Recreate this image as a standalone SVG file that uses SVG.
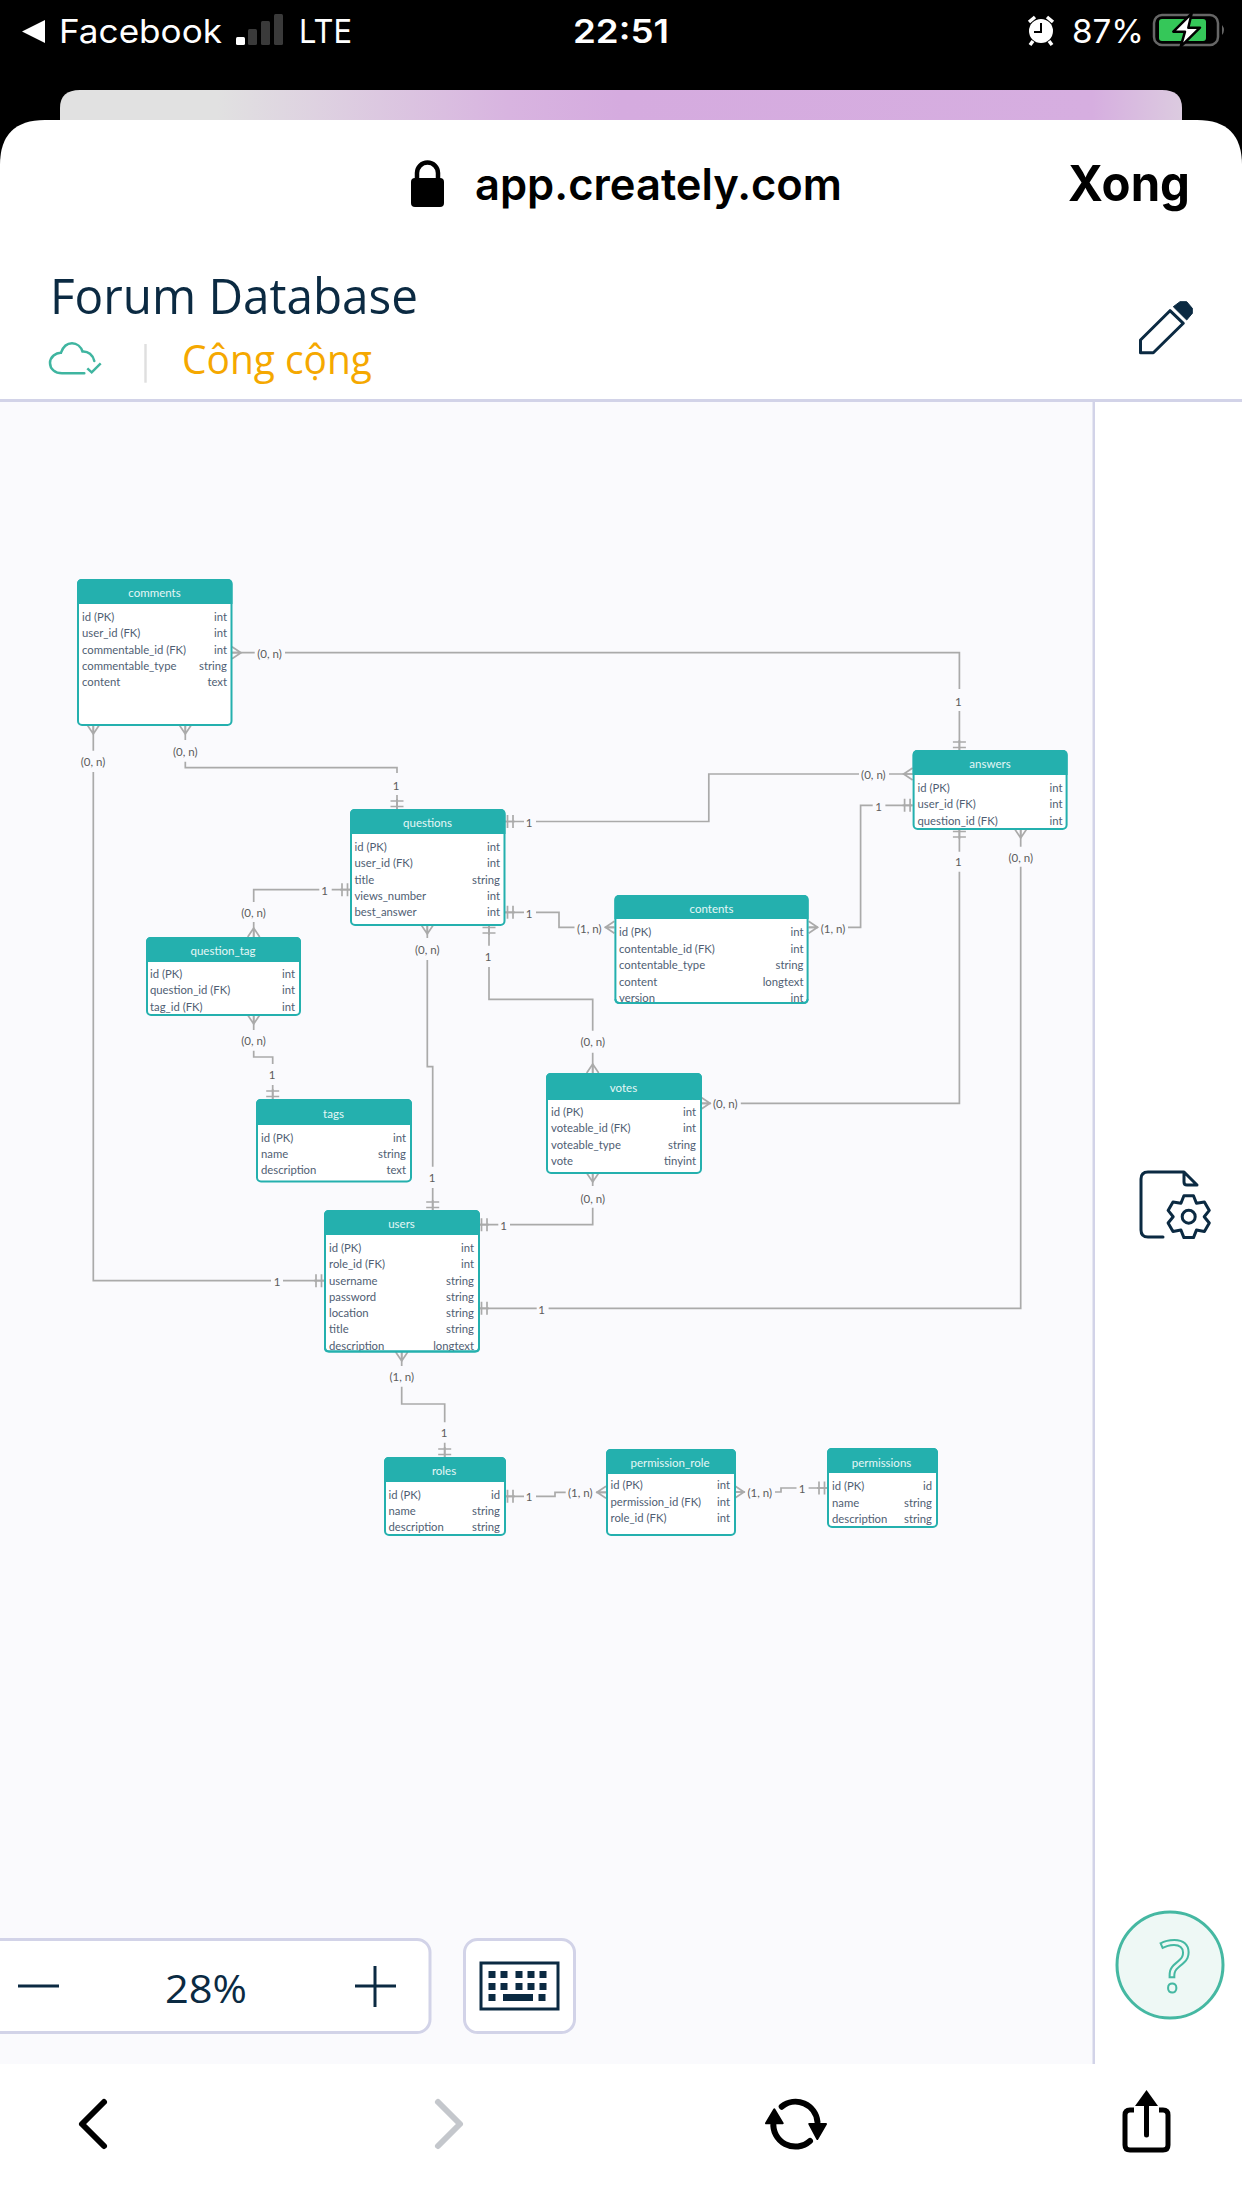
<svg xmlns="http://www.w3.org/2000/svg" width="1242" height="2208" viewBox="0 0 1242 2208">
<style>
.b{fill:#fff;stroke:#24b0ae;stroke-width:2}
.hd{fill:#24b0ae}
.h{font:11.500px Lato,"Liberation Sans",sans-serif;fill:#e4f7f6;text-anchor:middle}
.f{font:11.300px Lato,"Liberation Sans",sans-serif;fill:#4f5e73}
.t{font:11.300px Lato,"Liberation Sans",sans-serif;fill:#4f5e73;text-anchor:end}
.l{font:11.500px Lato,"Liberation Sans",sans-serif;fill:#5c5c5c;text-anchor:middle}
.c{fill:none;stroke:#aaa;stroke-width:1.700}
.st{font-family:Inter,"Liberation Sans",sans-serif;fill:#fff;font-size:33px}
.ui{font-family:"Open Sans","Noto Sans",sans-serif}
.ic{fill:none;stroke:#0b2a42;stroke-width:3;stroke-linejoin:round;stroke-linecap:round}
</style>
<defs>
<linearGradient id="tab" x1="0" x2="1" y1="0" y2="0">
<stop offset="0.14" stop-color="#e1e1e1"/><stop offset="0.4" stop-color="#d8b4e0"/><stop offset="0.5" stop-color="#d5abdf"/><stop offset="0.92" stop-color="#d6aee0"/><stop offset="1" stop-color="#dccbe0"/>
</linearGradient>
<g id="crow"><path class="c" d="M0 -6L9 0L0 6M0 0H9"/></g>
<g id="tk"><path class="c" d="M2.500 -6.500V6.500M8 -6.500V6.500M0 0H10"/></g>
</defs>

<rect width="1242" height="2208" fill="#000"/>
<path d="M60 120V108Q60 90 80 90H1162Q1182 90 1182 108V120Z" fill="url(#tab)"/>
<path d="M0 165Q0 120 45 120H1197Q1242 120 1242 165V2208H0Z" fill="#fff"/>

<g id="status-bar">
<path d="M22 31.500L45 20V43Z" fill="#fff"/>
<text class="st" x="59" y="43" textLength="163" lengthAdjust="spacingAndGlyphs">Facebook</text>
<rect x="236" y="37" width="9" height="8" rx="1.500" fill="#fff"/>
<rect x="248" y="29" width="9" height="16" rx="1.500" fill="#3a3a3a"/>
<rect x="261" y="21" width="9" height="24" rx="1.500" fill="#3a3a3a"/>
<rect x="274" y="14" width="9" height="31" rx="1.500" fill="#3a3a3a"/>
<text class="st" x="299" y="43" textLength="53" lengthAdjust="spacingAndGlyphs">LTE</text>
<text class="st" x="573" y="43" font-weight="600" textLength="96" lengthAdjust="spacingAndGlyphs">22:51</text>
<circle cx="1041" cy="31" r="12" fill="#fff"/>
<path d="M1041 23V32H1034" fill="none" stroke="#000" stroke-width="2"/>
<path d="M1029 22L1035 17M1053 22L1047 17M1033 41L1030 45M1049 41L1052 45" stroke="#fff" stroke-width="3.500" fill="none"/>
<text class="st" x="1072" y="42.500" textLength="72" lengthAdjust="spacingAndGlyphs">87%</text>
<rect x="1154" y="15" width="64" height="30" rx="8" fill="none" stroke="#666" stroke-width="2.500"/>
<rect x="1159" y="19" width="47" height="22" rx="3" fill="#35c759"/>
<path d="M1222 25Q1226 30 1222 35Z" fill="#666"/>
<path d="M1191.700 13.300L1173.300 31.700H1185L1180.700 46.700L1200 27.700H1188.300Z" fill="#fff" stroke="#000" stroke-width="2.500" stroke-linejoin="round"/>
</g>

<g id="browser-header">
<rect x="411" y="178" width="33" height="29" rx="4" fill="#000"/>
<path d="M417 180V173a10 10 0 0 1 21 0V180" fill="none" stroke="#000" stroke-width="4.500"/>
<text x="475" y="200" font-size="44" font-weight="600" fill="#000" font-family="Inter,'Liberation Sans',sans-serif" textLength="367" lengthAdjust="spacingAndGlyphs">app.creately.com</text>
<text x="1068" y="201" font-size="49" font-weight="700" fill="#000" font-family="Inter,'Liberation Sans',sans-serif" textLength="122" lengthAdjust="spacingAndGlyphs">Xong</text>
</g>

<g id="app-header">
<text class="ui" x="50" y="313.500" font-size="49" fill="#0b2a42" textLength="368" lengthAdjust="spacingAndGlyphs">Forum Database</text>
<path d="M84.300 373.300H62C55 373.300 50 369 50 363C50 357 56 352.500 61 352.700C63 347 67 343.300 72 343.300C77 343.300 81 347 82.500 351.500C88 351 93 355 94.300 361" fill="none" stroke="#3fb5a0" stroke-width="2.500" stroke-linecap="round"/>
<path d="M87.300 368.300L91.700 372.300L100.700 363.300" fill="none" stroke="#3fb5a0" stroke-width="2.500"/>
<rect x="144.300" y="344" width="2.400" height="38.700" fill="#dfdfdf"/>
<text class="ui" x="182" y="373.500" font-size="40" fill="#f5a800" textLength="190" lengthAdjust="spacingAndGlyphs">Công cộng</text>
<path class="ic" d="M1140.500 352.700V340L1170 310.700L1183.300 323.300L1153.300 352.700Z" stroke-linecap="butt" stroke-linejoin="miter"/>
<path d="M1173.300 306.700L1180 301.700H1186.700L1192.300 308.300V313.300L1186.700 320Z" fill="#0b2a42" stroke="#0b2a42" stroke-width="1" stroke-linejoin="round"/>
</g>

<rect y="402" width="1093" height="1662" fill="#fafafd"/>
<rect y="399" width="1242" height="3" fill="#d2d3e8"/>
<rect x="1092.500" y="402" width="2.500" height="1662" fill="#d2d3e8"/>

<g id="connectors">
<path class="c" d="M232 652.700H254.700M285 652.700H959.400V689M959.400 711V750"/>
<use href="#crow" transform="translate(232 652.700)"/><use href="#tk" transform="translate(959.400 750) rotate(-90)"/>
<path class="c" d="M93.300 725V750.700M93.300 772V1280.700H271M283 1280.700H324"/>
<use href="#crow" transform="translate(93.300 725) rotate(90)"/><use href="#tk" transform="translate(324 1280.700) rotate(180)"/>
<path class="c" d="M185.300 725V740M185.300 761.700V767.700H397V773M397 795V809"/>
<use href="#crow" transform="translate(185.300 725) rotate(90)"/><use href="#tk" transform="translate(397 809) rotate(-90)"/>
<path class="c" d="M505 821.500H524M536 821.500H708.800V774H859M889 774H912.600"/>
<use href="#tk" transform="translate(505 821.500)"/><use href="#crow" transform="translate(912.600 774) rotate(180)"/>
<path class="c" d="M505 912.300H524M536 912.300H559V927.300H574.500M604.800 927.300H614.400"/>
<use href="#tk" transform="translate(505 912.300)"/><use href="#crow" transform="translate(614.400 927.300) rotate(180)"/>
<path class="c" d="M808.600 927.300H818M848 927.300H860.600V805.300H872.700M885.400 805.300H912.600"/>
<use href="#crow" transform="translate(808.600 927.300)"/><use href="#tk" transform="translate(912.600 805.300) rotate(180)"/>
<path class="c" d="M350 889.700H331.700M319.300 889.700H253.700V902M253.700 922V937"/>
<use href="#tk" transform="translate(350 889.700) rotate(180)"/><use href="#crow" transform="translate(253.700 937) rotate(-90)"/>
<path class="c" d="M253.700 1015V1030M253.700 1050.700V1057H272.700V1064M272.700 1085V1099"/>
<use href="#crow" transform="translate(253.700 1015) rotate(90)"/><use href="#tk" transform="translate(272.700 1099) rotate(-90)"/>
<path class="c" d="M427.300 925V938M427.300 960V1066.700H432.700V1166.700M432.700 1188V1210"/>
<use href="#crow" transform="translate(427.300 925) rotate(90)"/><use href="#tk" transform="translate(432.700 1210) rotate(-90)"/>
<path class="c" d="M489 925V945.700M489 967V999.300H592.700V1030.700M592.700 1052.700V1073"/>
<use href="#tk" transform="translate(489 925) rotate(90)"/><use href="#crow" transform="translate(592.700 1073) rotate(-90)"/>
<path class="c" d="M701 1103.300H711M740.800 1103.300H959.400V871.700M959.400 851.700V829"/>
<use href="#crow" transform="translate(701 1103.300)"/><use href="#tk" transform="translate(959.400 829) rotate(90)"/>
<path class="c" d="M1020.700 829V846.700M1020.700 866.700V1308.300H548.600M536.700 1308.300H479"/>
<use href="#crow" transform="translate(1020.700 829) rotate(90)"/><use href="#tk" transform="translate(479 1308.300)"/>
<path class="c" d="M592.700 1173V1186M592.700 1207.700V1224.700H510M498.300 1224.700H479"/>
<use href="#crow" transform="translate(592.700 1173) rotate(90)"/><use href="#tk" transform="translate(479 1224.700)"/>
<path class="c" d="M401.700 1352V1366M401.700 1386.700V1404H444.700V1422.300M444.700 1442.700V1457"/>
<use href="#crow" transform="translate(401.700 1352) rotate(90)"/><use href="#tk" transform="translate(444.700 1457) rotate(-90)"/>
<path class="c" d="M505 1496.300H524M536 1496.300H555V1492.300H565.700M596 1492.300H606"/>
<use href="#tk" transform="translate(505 1496.300)"/><use href="#crow" transform="translate(606 1492.300) rotate(180)"/>
<path class="c" d="M735 1492H745M775 1492H781V1488H796.500M808.600 1488H827"/>
<use href="#crow" transform="translate(735 1492)"/><use href="#tk" transform="translate(827 1488) rotate(180)"/>
<g id="connector-labels">
<text class="l" x="269.500" y="658">(0, n)</text><text class="l" x="958.400" y="706">1</text>
<text class="l" x="93" y="766">(0, n)</text><text class="l" x="277" y="1286">1</text>
<text class="l" x="185.300" y="756">(0, n)</text><text class="l" x="396" y="790">1</text>
<text class="l" x="529" y="826.500">1</text><text class="l" x="873.400" y="779">(0, n)</text>
<text class="l" x="529" y="917.500">1</text><text class="l" x="589.300" y="933">(1, n)</text>
<text class="l" x="833" y="933">(1, n)</text><text class="l" x="878.500" y="811">1</text>
<text class="l" x="324.700" y="894.500">1</text><text class="l" x="253.500" y="917">(0, n)</text>
<text class="l" x="253.500" y="1045">(0, n)</text><text class="l" x="272" y="1079">1</text>
<text class="l" x="427.300" y="954">(0, n)</text><text class="l" x="432" y="1182">1</text>
<text class="l" x="488" y="961">1</text><text class="l" x="592.700" y="1046">(0, n)</text>
<text class="l" x="725.300" y="1108">(0, n)</text><text class="l" x="958.400" y="866">1</text>
<text class="l" x="1020.700" y="862">(0, n)</text><text class="l" x="541.700" y="1314">1</text>
<text class="l" x="592.700" y="1202.500">(0, n)</text><text class="l" x="503.700" y="1230">1</text>
<text class="l" x="401.700" y="1381">(1, n)</text><text class="l" x="444" y="1437">1</text>
<text class="l" x="529" y="1501">1</text><text class="l" x="580.300" y="1497">(1, n)</text>
<text class="l" x="759.700" y="1497">(1, n)</text><text class="l" x="802" y="1493">1</text>
</g>
</g>

<g id="comments">
<rect class="b" x="78" y="580" width="153.500" height="145" rx="4"/>
<path class="hd" d="M77 604V584Q77 579 82 579H227.500Q232.500 579 232.500 584V604Z"/>
<text class="h" x="154.500" y="597">comments</text>
<text class="f" x="82" y="621">id (PK)</text><text class="t" x="227" y="621">int</text>
<text class="f" x="82" y="637.300">user_id (FK)</text><text class="t" x="227" y="637.300">int</text>
<text class="f" x="82" y="653.600">commentable_id (FK)</text><text class="t" x="227" y="653.600">int</text>
<text class="f" x="82" y="670">commentable_type</text><text class="t" x="227" y="670">string</text>
<text class="f" x="82" y="686.300">content</text><text class="t" x="227" y="686.300">text</text>
</g>
<g id="questions">
<rect class="b" x="351" y="810" width="153.500" height="115" rx="4"/>
<path class="hd" d="M350 834V814Q350 809 355 809H500.500Q505.500 809 505.500 814V834Z"/>
<text class="h" x="427.500" y="827">questions</text>
<text class="f" x="354.500" y="851">id (PK)</text><text class="t" x="500" y="851">int</text>
<text class="f" x="354.500" y="867.300">user_id (FK)</text><text class="t" x="500" y="867.300">int</text>
<text class="f" x="354.500" y="883.600">title</text><text class="t" x="500" y="883.600">string</text>
<text class="f" x="354.500" y="900">views_number</text><text class="t" x="500" y="900">int</text>
<text class="f" x="354.500" y="916.300">best_answer</text><text class="t" x="500" y="916.300">int</text>
</g>
<g id="question_tag">
<rect class="b" x="147" y="938" width="153" height="77" rx="4"/>
<path class="hd" d="M146 962V942Q146 937 151 937H296Q301 937 301 942V962Z"/>
<text class="h" x="223" y="955">question_tag</text>
<text class="f" x="150" y="978">id (PK)</text><text class="t" x="295" y="978">int</text>
<text class="f" x="150" y="994.300">question_id (FK)</text><text class="t" x="295" y="994.300">int</text>
<text class="f" x="150" y="1010.600">tag_id (FK)</text><text class="t" x="295" y="1010.600">int</text>
</g>
<g id="tags">
<rect class="b" x="257" y="1100" width="154" height="81.500" rx="4"/>
<path class="hd" d="M256 1125V1104Q256 1099 261 1099H407Q412 1099 412 1104V1125Z"/>
<text class="h" x="333.500" y="1117.500">tags</text>
<text class="f" x="261" y="1141.500">id (PK)</text><text class="t" x="406" y="1141.500">int</text>
<text class="f" x="261" y="1158">name</text><text class="t" x="406" y="1158">string</text>
<text class="f" x="261" y="1174">description</text><text class="t" x="406" y="1174">text</text>
</g>
<g id="users">
<rect class="b" x="325" y="1211" width="154" height="140.500" rx="4"/>
<path class="hd" d="M324 1235V1215Q324 1210 329 1210H475Q480 1210 480 1215V1235Z"/>
<text class="f" x="329" y="1251.500">id (PK)</text><text class="t" x="474" y="1251.500">int</text>
<text class="f" x="329" y="1268">role_id (FK)</text><text class="t" x="474" y="1268">int</text>
<text class="f" x="329" y="1284.500">username</text><text class="t" x="474" y="1284.500">string</text>
<text class="f" x="329" y="1300.500">password</text><text class="t" x="474" y="1300.500">string</text>
<text class="f" x="329" y="1317">location</text><text class="t" x="474" y="1317">string</text>
<text class="f" x="329" y="1333">title</text><text class="t" x="474" y="1333">string</text>
<text class="f" x="329" y="1349.500">description</text><text class="t" x="474" y="1349.500">longtext</text>
<text class="h" x="401.500" y="1228">users</text>
<path d="M325 1347V1348Q325 1351.500 329 1351.500H475Q479 1351.500 479 1348V1347" fill="none" stroke="#24b0ae" stroke-width="2"/>
</g>
<g id="votes">
<rect class="b" x="547" y="1074" width="154" height="99" rx="4"/>
<path class="hd" d="M546 1100V1078Q546 1073 551 1073H697Q702 1073 702 1078V1100Z"/>
<text class="h" x="623.500" y="1092">votes</text>
<text class="f" x="551" y="1116">id (PK)</text><text class="t" x="696" y="1116">int</text>
<text class="f" x="551" y="1132">voteable_id (FK)</text><text class="t" x="696" y="1132">int</text>
<text class="f" x="551" y="1148.500">voteable_type</text><text class="t" x="696" y="1148.500">string</text>
<text class="f" x="551" y="1165">vote</text><text class="t" x="696" y="1165">tinyint</text>
</g>
<g id="answers">
<rect class="b" x="913.600" y="751" width="153" height="78" rx="4"/>
<path class="hd" d="M912.600 775V755Q912.600 750 917.600 750H1062.600Q1067.600 750 1067.600 755V775Z"/>
<text class="h" x="990" y="768">answers</text>
<text class="f" x="917.500" y="791.500">id (PK)</text><text class="t" x="1062.600" y="791.500">int</text>
<text class="f" x="917.500" y="808">user_id (FK)</text><text class="t" x="1062.600" y="808">int</text>
<text class="f" x="917.500" y="824.500">question_id (FK)</text><text class="t" x="1062.600" y="824.500">int</text>
</g>
<g id="contents">
<rect class="b" x="615.400" y="896" width="192.200" height="107" rx="4"/>
<path class="hd" d="M614.400 919V900Q614.400 895 619.400 895H803.600Q808.600 895 808.600 900V919Z"/>
<text class="h" x="711.500" y="912.500">contents</text>
<text class="f" x="619" y="936">id (PK)</text><text class="t" x="803.500" y="936">int</text>
<text class="f" x="619" y="952.500">contentable_id (FK)</text><text class="t" x="803.500" y="952.500">int</text>
<text class="f" x="619" y="969">contentable_type</text><text class="t" x="803.500" y="969">string</text>
<text class="f" x="619" y="985.500">content</text><text class="t" x="803.500" y="985.500">longtext</text>
<text class="f" x="619" y="1001.500">version</text><text class="t" x="803.500" y="1001.500">int</text>
<path d="M615.400 999Q615.400 1003 619.400 1003H803.600Q807.600 1003 807.600 999" fill="none" stroke="#24b0ae" stroke-width="2"/>
</g>
<g id="roles">
<rect class="b" x="385" y="1458" width="120" height="77" rx="4"/>
<path class="hd" d="M384 1482V1462Q384 1457 389 1457H501Q506 1457 506 1462V1482Z"/>
<text class="h" x="444" y="1475">roles</text>
<text class="f" x="388.500" y="1498.500">id (PK)</text><text class="t" x="500" y="1498.500">id</text>
<text class="f" x="388.500" y="1515">name</text><text class="t" x="500" y="1515">string</text>
<text class="f" x="388.500" y="1531">description</text><text class="t" x="500" y="1531">string</text>
</g>
<g id="permission_role">
<rect class="b" x="607" y="1450" width="128" height="85" rx="4"/>
<path class="hd" d="M606 1474V1454Q606 1449 611 1449H731Q736 1449 736 1454V1474Z"/>
<text class="h" x="670" y="1467">permission_role</text>
<text class="f" x="610.500" y="1489">id (PK)</text><text class="t" x="730" y="1489">int</text>
<text class="f" x="610.500" y="1505.500">permission_id (FK)</text><text class="t" x="730" y="1505.500">int</text>
<text class="f" x="610.500" y="1522">role_id (FK)</text><text class="t" x="730" y="1522">int</text>
</g>
<g id="permissions">
<rect class="b" x="828" y="1449" width="109" height="78" rx="4"/>
<path class="hd" d="M827 1473V1453Q827 1448 832 1448H933Q938 1448 938 1453V1473Z"/>
<text class="h" x="881.500" y="1466.500">permissions</text>
<text class="f" x="832" y="1490">id (PK)</text><text class="t" x="932" y="1490">id</text>
<text class="f" x="832" y="1506.500">name</text><text class="t" x="932" y="1506.500">string</text>
<text class="f" x="832" y="1522.500">description</text><text class="t" x="932" y="1522.500">string</text>
</g>

<g id="doc-settings-icon">
<path class="ic" d="M1163 1237H1148Q1141 1237 1141 1230V1179Q1141 1172 1148 1172H1184V1182Q1184 1185 1187 1185H1197L1184 1172"/>
<polygon class="ic" transform="translate(1188.700 1216.700)" points="-4.800,-20.900 4.800,-20.900 7.750,-13.400 15.700,-14.700 20.600,-6.300 15.500,0 20.600,6.300 15.700,14.700 7.750,13.400 4.800,20.900 -4.800,20.900 -7.750,13.400 -15.700,14.700 -20.600,6.300 -15.500,0 -20.600,-6.300 -15.700,-14.700 -7.750,-13.400"/>
<circle class="ic" cx="1188.700" cy="1216.700" r="6.500"/>
</g>

<g id="zoom-control">
<rect x="-12" y="1939.500" width="442" height="93" rx="13" fill="#fff" stroke="#d2d3e8" stroke-width="3"/>
<path d="M18 1986H59M355 1986H396M375 1966V2007" fill="none" stroke="#0b2a42" stroke-width="3"/>
<text class="ui" x="165" y="2003" font-size="38" fill="#0b2a42" textLength="82" lengthAdjust="spacingAndGlyphs">28%</text>
<rect x="464.500" y="1939.500" width="110" height="93" rx="13" fill="#fff" stroke="#d2d3e8" stroke-width="3"/>
<rect x="481" y="1963" width="77" height="46" fill="none" stroke="#0b2a42" stroke-width="3"/>
<path d="M492 1971V1978M504 1971V1978M519 1971V1978M531 1971V1978M543 1971V1978M492 1983V1990M504 1983V1990M519 1983V1990M531 1983V1990M543 1983V1990" fill="none" stroke="#0b2a42" stroke-width="7"/>
<path d="M492 1994V2001M542 1994V2001" fill="none" stroke="#0b2a42" stroke-width="7"/>
<rect x="503" y="1994" width="30" height="7" fill="#0b2a42"/>
</g>
<g id="help-button">
<circle cx="1170" cy="1965" r="53" fill="#eef8f5" stroke="#45b8a2" stroke-width="3"/>
<text class="ui" x="1175" y="1992" font-size="72" text-anchor="middle" fill="#eef8f5" stroke="#45b8a2" stroke-width="2">?</text>
</g>
<g id="browser-toolbar">
<path d="M104 2102L82 2124L104 2146" fill="none" stroke="#000" stroke-width="6" stroke-linecap="round" stroke-linejoin="round"/>
<path d="M438 2102L460 2124L438 2146" fill="none" stroke="#c4c7cc" stroke-width="6" stroke-linecap="round" stroke-linejoin="round"/>
<path d="M781.700 2106.700A22 22 0 0 1 817.500 2122M810 2141A22 22 0 0 1 773.500 2122" fill="none" stroke="#000" stroke-width="6" stroke-linecap="round"/>
<path d="M766 2123.300H782.700L774.300 2109.300ZM809.300 2124H826L817.300 2139Z" fill="#000" stroke="#000" stroke-width="2" stroke-linejoin="round"/>
<path d="M1134 2110H1130Q1125 2110 1125 2115V2145Q1125 2150 1130 2150H1163Q1168 2150 1168 2145V2115Q1168 2110 1163 2110H1159" fill="none" stroke="#000" stroke-width="5"/>
<path d="M1146.500 2135V2100" fill="none" stroke="#000" stroke-width="5" stroke-linecap="round"/>
<path d="M1135 2106L1146.500 2090L1158 2106Z" fill="#000"/>
</g>
</svg>
